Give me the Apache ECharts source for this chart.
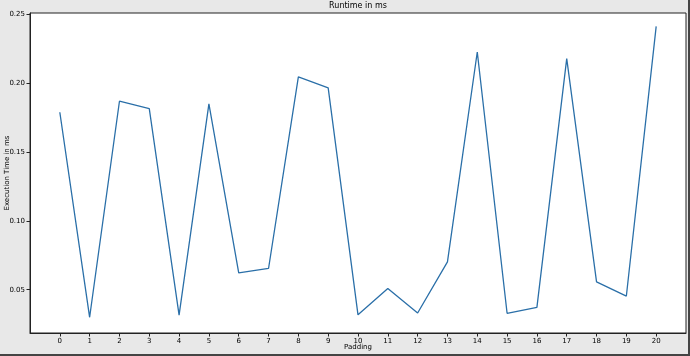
<!DOCTYPE html>
<html>
<head>
<meta charset="utf-8">
<script src="https://cdn.jsdelivr.net/npm/echarts@6/dist/echarts.min.js"></script>
<style>
html,body{margin:0;padding:0;background:#e8e8e8;}
#c{width:690px;height:356px;}
</style>
</head>
<body>
<div id="c"></div>
<script>
const padding = [0,1,2,3,4,5,6,7,8,9,10,11,12,13,14,15,16,17,18,19,20];
const runtimeMs = [0.1787,0.0300,0.1867,0.1814,0.0316,0.1848,0.0622,0.0654,0.2043,0.1964,0.0318,0.0509,0.0331,0.0702,0.2224,0.0329,0.0372,0.2176,0.0557,0.0454,0.2410];
const xTicks = [0,1,2,3,4,5,6,7,8,9,10,11,12,13,14,15,16,17,18,19,20];
const yTicks = [0.05,0.10,0.15,0.20,0.25];

const chart = echarts.init(document.getElementById('c'), null, {renderer:'canvas'});
const font = 'DejaVu Sans';
chart.setOption({
  backgroundColor: '#e8e8e8',
  animation: false,
  title: {
    text: 'Runtime in ms',
    left: 358, top: 1, textAlign: 'center', padding: 0,
    textStyle: {fontFamily: font, fontSize: 8, fontWeight: 'normal', color: '#000', lineHeight: 10}
  },
  grid: {left: 30, top: 13, right: 4, bottom: 23, containLabel: false, outerBoundsMode: 'none',
         show: true, backgroundColor: '#fff', borderColor: '#222', borderWidth: 1},
  xAxis: {
    type: 'value', min: -1, max: 21,
    name: 'Padding', nameLocation: 'middle', nameGap: 11, nameMoveOverlap: false,
    nameTextStyle: {fontFamily: font, fontSize: 7, color: '#000'},
    axisLine: {show: true, onZero: false, lineStyle: {color: '#222', width: 1}},
    splitLine: {show: false},
    axisTick: {show: true, inside: false, length: 3.5, lineStyle: {color: '#222'}, customValues: xTicks},
    axisLabel: {fontFamily: font, fontSize: 7, color: '#000', margin: 5, customValues: xTicks, formatter: v => String(v)}
  },
  yAxis: {
    type: 'value', min: 0.0186, max: 0.2507,
    name: 'Execution Time in ms', nameLocation: 'middle', nameGap: 19, nameMoveOverlap: false,
    nameTextStyle: {fontFamily: font, fontSize: 7, color: '#000'},
    axisLine: {show: true, onZero: false, lineStyle: {color: '#222', width: 1}},
    splitLine: {show: false},
    axisTick: {show: true, inside: false, length: 3.5, lineStyle: {color: '#222', width: 1}, customValues: yTicks},
    axisLabel: {fontFamily: font, fontSize: 7, color: '#000', margin: 5, customValues: yTicks, formatter: v => v.toFixed(2)}
  },
  series: [{
    type: 'line',
    data: padding.map((p, i) => [p, runtimeMs[i]]),
    showSymbol: false,
    lineStyle: {color: '#2a6fa8', width: 1.3},
    itemStyle: {color: '#2a6fa8'}
  }],
  graphic: [
    {type: 'rect', shape: {x: 0, y: 354, width: 690, height: 2}, style: {fill: '#444'}, silent: true},
    {type: 'rect', shape: {x: 688, y: 0, width: 2, height: 356}, style: {fill: '#444'}, silent: true}
  ]
});
</script>
</body>
</html>
